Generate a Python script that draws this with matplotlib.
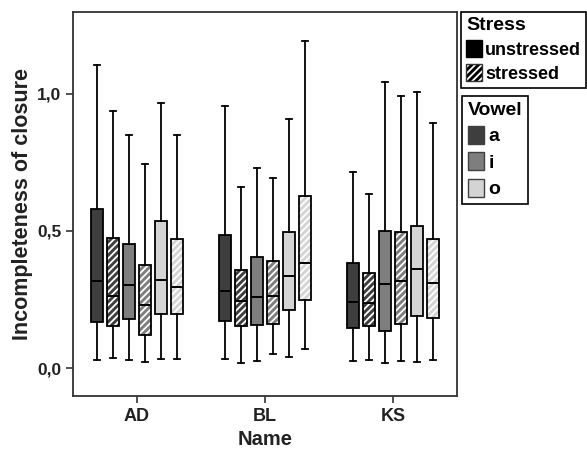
import matplotlib
matplotlib.use('Agg')
import matplotlib.pyplot as plt
from matplotlib.patches import Patch, PathPatch
from matplotlib.legend_handler import HandlerTuple

plt.rcParams['font.family'] = ['Liberation Sans', 'DejaVu Sans']
plt.rcParams['font.weight'] = 'bold'
plt.rcParams['hatch.linewidth'] = 1.3

# ---- data ----
names = ['AD', 'BL', 'KS']
vowels = ['a', 'i', 'o']
stress_levels = ['unstressed', 'stressed']
# box order inside each name: a-unstr, a-str, i-unstr, i-str, o-unstr, o-str
whislo = [[0.031, 0.038, 0.031, 0.022, 0.033, 0.033],
          [0.033, 0.020, 0.026, 0.051, 0.040, 0.069],
          [0.024, 0.031, 0.020, 0.026, 0.022, 0.031]]
q1 = [[0.167, 0.152, 0.180, 0.120, 0.198, 0.196],
      [0.172, 0.155, 0.157, 0.162, 0.213, 0.248],
      [0.146, 0.155, 0.136, 0.162, 0.191, 0.184]]
med = [[0.319, 0.264, 0.304, 0.230, 0.321, 0.296],
       [0.281, 0.243, 0.260, 0.264, 0.336, 0.385],
       [0.241, 0.239, 0.307, 0.319, 0.363, 0.312]]
q3 = [[0.579, 0.473, 0.453, 0.376, 0.537, 0.471],
      [0.487, 0.358, 0.405, 0.391, 0.498, 0.628],
      [0.385, 0.347, 0.500, 0.495, 0.520, 0.469]]
whishi = [[1.105, 0.939, 0.850, 0.745, 0.967, 0.850],
          [0.955, 0.659, 0.731, 0.693, 0.910, 1.193],
          [0.715, 0.636, 1.045, 0.992, 1.007, 0.894]]
yticks = [0.0, 0.5, 1.0]
ytick_labels = ['0,0', '0,5', '1,0']

vowel_colors = {'a': '#3e3e3e', 'i': '#7e7e7e', 'o': '#d4d4d4'}
hatch = '/////'

fig = plt.figure(figsize=(5.87, 4.50), dpi=100)
ax = fig.add_axes([73 / 587, 54 / 450, (457 - 73) / 587, (396 - 12) / 450])

step = 0.125
width = 0.099
stats, positions, combos = [], [], []
for gi, name in enumerate(names):
    for j in range(6):
        stats.append(dict(whislo=whislo[gi][j], q1=q1[gi][j], med=med[gi][j],
                          q3=q3[gi][j], whishi=whishi[gi][j], fliers=[]))
        positions.append(gi + (j - 2.5) * step)
        combos.append((vowels[j // 2], stress_levels[j % 2]))

res = ax.bxp(stats, positions=positions, widths=width, patch_artist=True,
             showfliers=False, manage_ticks=False, capwidths=0.04,
             boxprops=dict(linewidth=1.3, edgecolor='black'),
             medianprops=dict(color='black', linewidth=1.4),
             whiskerprops=dict(color='black', linewidth=1.3),
             capprops=dict(color='black', linewidth=1.3))

for box, (v, s) in zip(res['boxes'], combos):
    box.set_facecolor(vowel_colors[v])
    if s == 'stressed':
        box.set_hatch(hatch)
        box.set_edgecolor('white')
        box.set_linewidth(0)
        outline = PathPatch(box.get_path(), facecolor='none', edgecolor='black',
                            linewidth=1.3, zorder=2.05)
        ax.add_patch(outline)

ax.set_xlim(-0.5, 2.5)
ax.set_ylim(-0.102, 1.299)
ax.set_xticks(range(len(names)))
ax.set_xticklabels(names, fontsize=13, fontweight='bold')
ax.set_yticks(yticks)
ax.set_yticklabels(ytick_labels, fontsize=12.5, fontweight='bold')
ax.tick_params(axis='both', direction='out', length=5, width=1.2, color='#333333',
               labelcolor='#222222')
for sp in ax.spines.values():
    sp.set_linewidth(1.3)
    sp.set_color('#333333')
ax.set_xlabel('Name', fontsize=14.5, fontweight='bold', color='#222222', labelpad=4)
ax.set_ylabel('Incompleteness of closure', fontsize=15.5, fontweight='bold',
              color='#222222', labelpad=3)

# ---- legends ----
h_unstr = Patch(facecolor='black', edgecolor='black', linewidth=1)
h_str = (Patch(facecolor='black', edgecolor='white', hatch=hatch, linewidth=0),
         Patch(facecolor='none', edgecolor='#333333', linewidth=1))
leg1 = fig.legend([h_unstr, h_str], stress_levels, loc='upper left',
                  bbox_to_anchor=(461 / 587, 1 - 12 / 450),
                  handler_map={tuple: HandlerTuple(ndivide=1)},
                  title='Stress', alignment='left', fancybox=False,
                  edgecolor='black', framealpha=1,
                  prop={'size': 13, 'weight': 'bold'},
                  title_fontproperties={'size': 14, 'weight': 'bold'},
                  handlelength=0.85, handleheight=1.1, handletextpad=0.18,
                  borderpad=0.3, labelspacing=0.3, borderaxespad=0)
leg1.get_frame().set_linewidth(1.2)

vh = [Patch(facecolor=vowel_colors[v], edgecolor='#404040', linewidth=1) for v in vowels]
leg2 = fig.legend(vh, vowels, loc='upper left',
                  bbox_to_anchor=(462 / 587, 1 - 96 / 450),
                  title='Vowel', alignment='left', fancybox=False,
                  edgecolor='black', framealpha=1,
                  prop={'size': 14, 'weight': 'bold'},
                  title_fontproperties={'size': 14, 'weight': 'bold'},
                  handlelength=0.85, handleheight=1.05, handletextpad=0.2,
                  borderpad=0.3, labelspacing=0.35, borderaxespad=0)
leg2.get_frame().set_linewidth(1.2)

fig.savefig('out.png', dpi=100)
